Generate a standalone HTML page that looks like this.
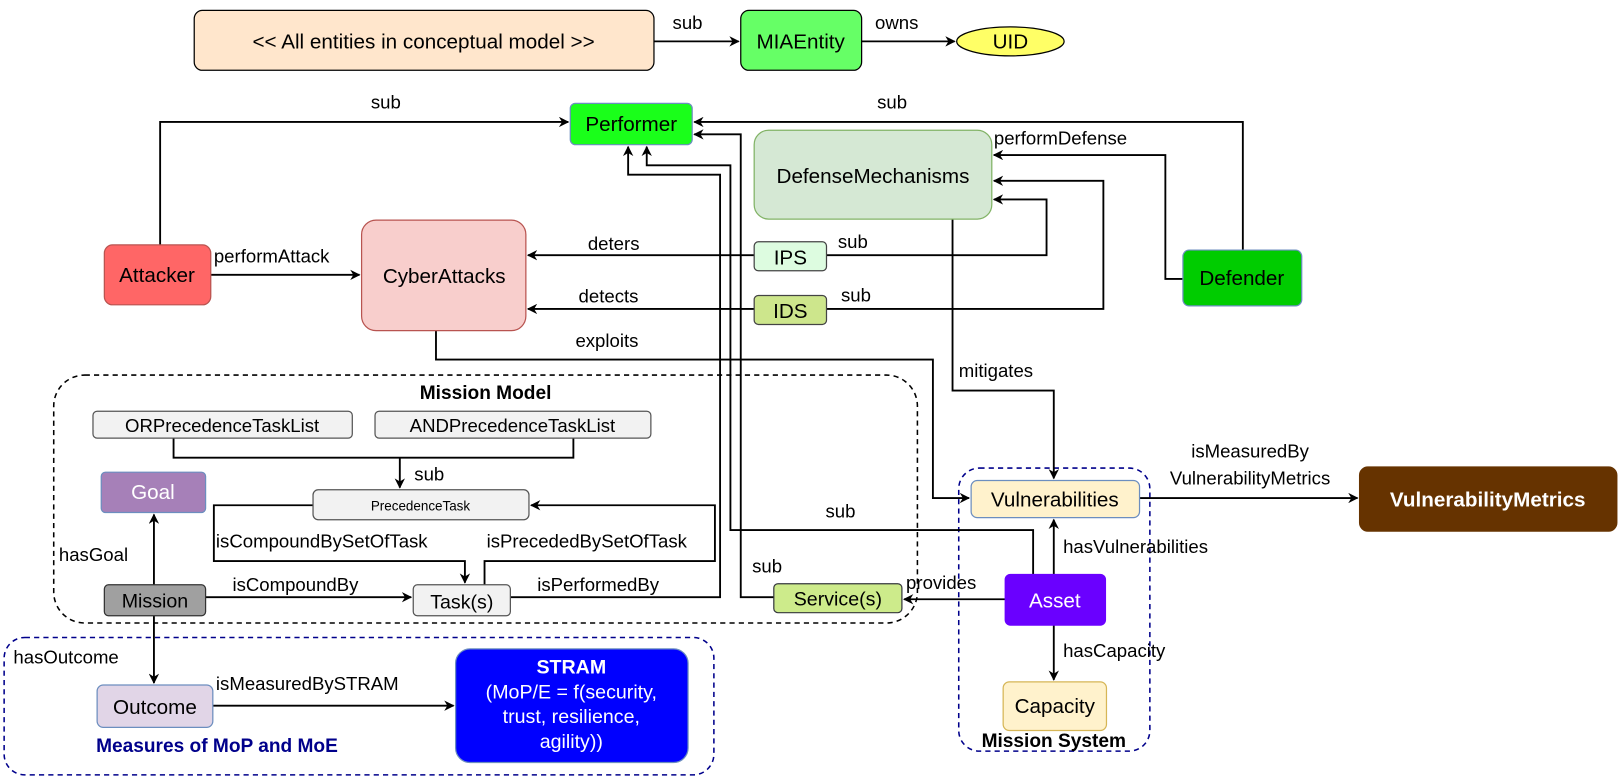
<!DOCTYPE html>
<html><head><meta charset="utf-8"><style>
html,body{margin:0;padding:0;background:#fff;}
svg{display:block;}
text{font-family:"Liberation Sans",Arial,sans-serif;fill:#000;}
</style></head><body>
<svg width="1622" height="777" viewBox="0 0 1570 752" xmlns="http://www.w3.org/2000/svg">
<defs>
<marker id="a" viewBox="0 0 10 10" refX="9" refY="5" markerWidth="10" markerHeight="10" orient="auto" markerUnits="userSpaceOnUse">
<path d="M0,0 L10,5 L0,10 L3,5 z" fill="#000"/></marker>
</defs>
<g fill="none" stroke="#000" stroke-width="1.8">
<rect x="52" y="363" width="836" height="240" rx="30" stroke-dasharray="5,4" stroke-width="1.5"/>
<rect x="4" y="617" width="687" height="133" rx="20" stroke="#00008b" stroke-dasharray="5,4" stroke-width="1.5"/>
<rect x="928" y="453" width="185" height="274" rx="20" stroke="#00008b" stroke-dasharray="5,4" stroke-width="1.5"/>
<path d="M633,40 H715" marker-end="url(#a)"/>
<path d="M834,40 H924" marker-end="url(#a)"/>
<path d="M155,237 V118 H550" marker-end="url(#a)"/>
<path d="M1203,242 V118 H672" marker-end="url(#a)"/>
<path d="M1145,270 H1128 V150 H962" marker-end="url(#a)"/>
<path d="M800,247 H1013 V193 H962" marker-end="url(#a)"/>
<path d="M800,299 H1068 V175 H962" marker-end="url(#a)"/>
<path d="M730,247 H511" marker-end="url(#a)"/>
<path d="M730,299 H511" marker-end="url(#a)"/>
<path d="M204,266 H348" marker-end="url(#a)"/>
<path d="M422,320 V348 H903 V482 H938" marker-end="url(#a)"/>
<path d="M922,212 V378 H1020 V463" marker-end="url(#a)"/>
<path d="M494,578 H697 V169 H608 V142" marker-end="url(#a)"/>
<path d="M1000,556 V513 H707 V160 H626 V142" marker-end="url(#a)"/>
<path d="M749,578 H717 V130 H672" marker-end="url(#a)"/>
<path d="M168,424 V443 H555 V424"/>
<path d="M387,443 V472" marker-end="url(#a)"/>
<path d="M303,489 H207 V543 H450 V564" marker-end="url(#a)"/>
<path d="M469,566 V543 H692 V489 H514" marker-end="url(#a)"/>
<path d="M199,578 H398" marker-end="url(#a)"/>
<path d="M149,566 V498" marker-end="url(#a)"/>
<path d="M149,596 V661" marker-end="url(#a)"/>
<path d="M206,683 H439" marker-end="url(#a)"/>
<path d="M973,580 H875" marker-end="url(#a)"/>
<path d="M1020,556 V503" marker-end="url(#a)"/>
<path d="M1020,605 V658" marker-end="url(#a)"/>
<path d="M1103,482 H1314" marker-end="url(#a)"/>
</g>
<g stroke-width="1.2">
<rect x="188" y="10" width="445" height="58" rx="8" fill="#ffe6cc" stroke="#000"/>
<rect x="717" y="10" width="117" height="58" rx="8" fill="#66ff66" stroke="#000"/>
<ellipse cx="978" cy="40" rx="52" ry="14" fill="#ffff66" stroke="#000"/>
<rect x="552" y="100" width="118" height="40" rx="5" fill="#1aff1a" stroke="#6c8ebf"/>
<rect x="730" y="126" width="230" height="86" rx="14" fill="#d5e8d4" stroke="#82b366"/>
<rect x="101" y="237" width="103" height="58" rx="8" fill="#ff6666" stroke="#b85450"/>
<rect x="350" y="213" width="159" height="107" rx="14" fill="#f8cecc" stroke="#b85450"/>
<rect x="730" y="234" width="70" height="28" rx="4" fill="#ddfce0" stroke="#444"/>
<rect x="730" y="286" width="70" height="28" rx="4" fill="#cde68c" stroke="#444"/>
<rect x="1145" y="242" width="115" height="54" rx="6" fill="#00cc00" stroke="#6c8ebf"/>
<rect x="90" y="398" width="251" height="26" rx="4" fill="#f2f2f2" stroke="#555"/>
<rect x="363" y="398" width="267" height="26" rx="4" fill="#f2f2f2" stroke="#555"/>
<rect x="303" y="474" width="209" height="29" rx="5" fill="#f2f2f2" stroke="#555"/>
<rect x="98" y="457" width="101" height="39" rx="4" fill="#a680b8" stroke="#6c8ebf"/>
<rect x="101" y="566" width="98" height="30" rx="4" fill="#a0a0a0" stroke="#333"/>
<rect x="400" y="566" width="94" height="30" rx="4" fill="#f2f2f2" stroke="#555"/>
<rect x="94" y="663" width="112" height="41" rx="6" fill="#e1d5e7" stroke="#6c8ebf"/>
<rect x="441" y="628" width="225" height="110" rx="14" fill="#0000ff" stroke="#6c8ebf"/>
<rect x="940" y="465" width="163" height="36" rx="6" fill="#fff2cc" stroke="#6c8ebf"/>
<rect x="973" y="556" width="97" height="49" rx="5" fill="#6a00ff" stroke="#6a00ff"/>
<rect x="971" y="660" width="100" height="47" rx="6" fill="#fff2cc" stroke="#d6b656"/>
<rect x="749" y="565" width="124" height="28" rx="4" fill="#cdeb8b" stroke="#36393d"/>
<rect x="1316" y="452" width="249" height="62" rx="8" fill="#663300" stroke="#663300"/>
</g>
<g font-size="20" text-anchor="middle">
<text x="410" y="47">&lt;&lt; All entities in conceptual model &gt;&gt;</text>
<text x="775" y="47">MIAEntity</text>
<text x="978" y="47">UID</text>
<text x="611" y="127">Performer</text>
<text x="845" y="177">DefenseMechanisms</text>
<text x="152" y="273">Attacker</text>
<text x="430" y="274">CyberAttacks</text>
<text x="765" y="256">IPS</text>
<text x="765" y="308">IDS</text>
<text x="1202" y="276">Defender</text>
<text x="215" y="418" font-size="18">ORPrecedenceTaskList</text>
<text x="496" y="418" font-size="18">ANDPrecedenceTaskList</text>
<text x="407" y="494" font-size="13">PrecedenceTask</text>
<text x="148" y="483" style="fill:#fff">Goal</text>
<text x="150" y="588" font-size="19">Mission</text>
<text x="447" y="589" font-size="19">Task(s)</text>
<text x="150" y="691">Outcome</text>
<text x="553" y="652" font-weight="bold" style="fill:#fff" font-size="19">STRAM</text>
<text x="553" y="676" style="fill:#fff" font-size="19">(MoP/E = f(security,</text>
<text x="553" y="700" style="fill:#fff" font-size="19">trust, resilience,</text>
<text x="553" y="724" style="fill:#fff" font-size="19">agility))</text>
<text x="1021" y="490">Vulnerabilities</text>
<text x="1021" y="588" style="fill:#fff">Asset</text>
<text x="1021" y="690">Capacity</text>
<text x="811" y="586" font-size="19">Service(s)</text>
<text x="1440" y="490" font-weight="bold" style="fill:#fff">VulnerabilityMetrics</text>
</g>
<g font-size="18">
<text x="651" y="28">sub</text>
<text x="847" y="28">owns</text>
<text x="359" y="105">sub</text>
<text x="849" y="105">sub</text>
<text x="962" y="140">performDefense</text>
<text x="207" y="254">performAttack</text>
<text x="569" y="242">deters</text>
<text x="560" y="293">detects</text>
<text x="811" y="240">sub</text>
<text x="814" y="292">sub</text>
<text x="557" y="336">exploits</text>
<text x="928" y="365">mitigates</text>
<text x="401" y="465">sub</text>
<text x="209" y="530">isCompoundBySetOfTask</text>
<text x="471" y="530">isPrecededBySetOfTask</text>
<text x="225" y="572">isCompoundBy</text>
<text x="520" y="572">isPerformedBy</text>
<text x="57" y="543">hasGoal</text>
<text x="13" y="642">hasOutcome</text>
<text x="209" y="668">isMeasuredBySTRAM</text>
<text x="799" y="501">sub</text>
<text x="728" y="554">sub</text>
<text x="877" y="570">provides</text>
<text x="1029" y="535">hasVulnerabilities</text>
<text x="1029" y="636">hasCapacity</text>
<text x="1210" y="443" text-anchor="middle">isMeasuredBy</text>
<text x="1210" y="469" text-anchor="middle">VulnerabilityMetrics</text>
<text x="470" y="386" text-anchor="middle" font-weight="bold" font-size="18.5">Mission Model</text>
<text x="210" y="728" text-anchor="middle" font-weight="bold" font-size="18.5" style="fill:#00008b">Measures of MoP and MoE</text>
<text x="1020" y="723" text-anchor="middle" font-weight="bold" font-size="18.5">Mission System</text>
</g>
</svg>
</body></html>
